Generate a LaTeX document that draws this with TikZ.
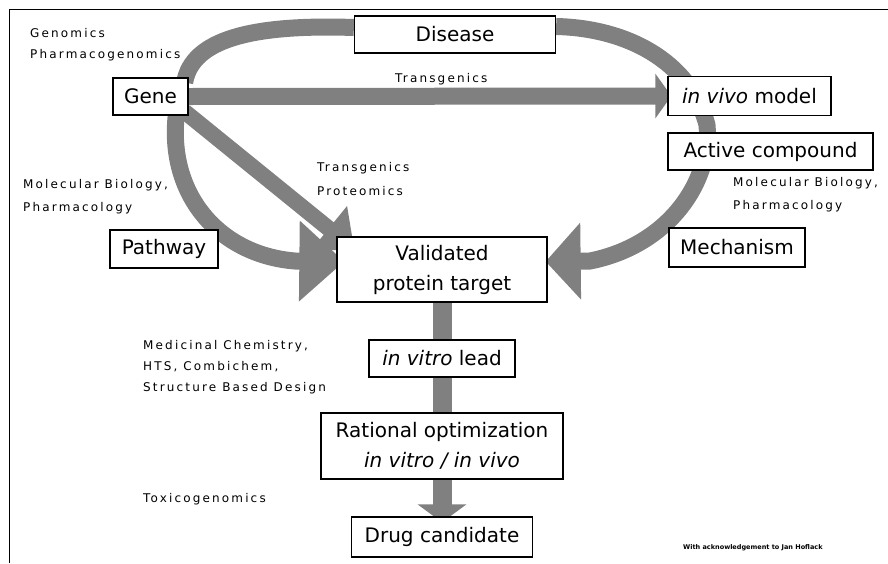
\documentclass[tikz,border=0pt]{standalone}
\usepackage{fontspec}
\setmainfont{DejaVu Sans}
\newfontfamily\lblfont[LetterSpace=18]{DejaVu Sans}
\usetikzlibrary{arrows.meta,backgrounds}
\definecolor{arrowgray}{gray}{0.5}
\tikzset{
  box/.style={draw=black, line width=1.3pt, fill=white, inner sep=0pt,
    font=\fontsize{20}{30}\selectfont, align=center},
  lbl/.style={anchor=west, inner sep=0pt, font=\lblfont\fontsize{12}{14}\selectfont},
  foot/.style={anchor=west, inner sep=0pt, font=\bfseries\fontsize{6.5}{8}\selectfont},
  shaft/.style={draw=arrowgray, line width=17pt},
}
\begin{document}
\begin{tikzpicture}[x=1pt,y=-1pt]
\useasboundingbox (0,0) rectangle (888,563);
% boxes
\node[box, minimum width=201pt, minimum height=37pt] (disease) at (455,34.5) {Disease};
\node[box, minimum width=75pt, minimum height=37pt] (gene) at (150.5,96.5) {Gene};
\node[box, minimum width=163pt, minimum height=39pt] (vivo) at (749.5,96) {\textit{in vivo} model};
\node[box, minimum width=205pt, minimum height=37pt] (active) at (770.5,151.5) {Active compound};
\node[box, minimum width=136pt, minimum height=39pt] (mech) at (737,247.5) {Mechanism};
\node[box, minimum width=108pt, minimum height=38pt] (pathway) at (164,249) {Pathway};
\node[box, minimum width=210pt, minimum height=65pt] (target) at (442,269.5) {Validated\\protein target};
\node[box, minimum width=146pt, minimum height=37pt] (lead) at (442,358.5) {\textit{in vitro} lead};
\node[box, minimum width=242pt, minimum height=66pt] (ratopt) at (442,446) {Rational optimization\\\textit{in vitro / in vivo}};
\node[box, minimum width=181pt, minimum height=40pt] (drug) at (442,537) {Drug candidate};
% labels
\node[lbl] (l1) at (30,33) {Genomics};
\node[lbl] (l2) at (30,55) {Pharmacogenomics};
\node[lbl] (l3) at (395,79) {Transgenics};
\node[lbl] (l4) at (317,168) {Transgenics};
\node[lbl] (l5) at (317,191) {Proteomics};
\node[lbl] (l6) at (23,185) {Molecular Biology,};
\node[lbl] (l7) at (23,208) {Pharmacology};
\node[lbl] (l8) at (733,183) {Molecular Biology,};
\node[lbl] (l9) at (733,206) {Pharmacology};
\node[lbl] (l10) at (143,346) {Medicinal Chemistry,};
\node[lbl] (l11) at (143,367) {HTS, Combichem,};
\node[lbl] (l12) at (143,388) {Structure Based Design};
\node[lbl] (l13) at (143,499) {Toxicogenomics};
\node[foot] (fn) at (683,548) {With acknowledgement to Jan Hoflack};
\begin{scope}[on background layer]
  % frame
  \draw[line width=1pt] (9,563) -- (9,9) -- (888,9);
  % big loop, top left
  \draw[shaft] ([xshift=-4pt,yshift=-5pt]gene.north east) .. controls (192,40) and (250,24) .. ([yshift=7pt]disease.west);
  % big loop, right side to target
  \draw[shaft, -{Triangle[length=35pt,width=75pt]}] ([yshift=8pt]disease.east) .. controls (625,28) and (690,60) .. (707,125)
     .. controls (712,180) and (670,245) .. (590,261) -- ([xshift=-2pt,yshift=8pt]target.east);
  % left lower loop to target
  \draw[shaft, -{Triangle[length=45pt,width=78pt]}] ([xshift=-12pt,yshift=4pt]gene.south east) .. controls (166,195) and (220,255) .. (295,261) -- ([xshift=8pt,yshift=8pt]target.west);
  % horizontal
  \draw[shaft, -{Triangle[length=16pt,width=44pt]}] (gene.east) -- ([xshift=4pt]vivo.west);
  % diagonal
  \draw[shaft, line width=16pt, -{Triangle[length=33pt,width=56pt]}] ([xshift=-4pt,yshift=4pt]gene.south east) -- ([xshift=18pt,yshift=-13pt]target.north west);
  % vertical chain
  \draw[shaft, line width=19pt] (target.south) -- (lead.north);
  \draw[shaft, line width=19pt] (lead.south) -- (ratopt.north);
  \draw[shaft, line width=19pt, -{Triangle[length=18pt,width=48pt]}] (ratopt.south) -- ([yshift=-6pt]drug.north);
\end{scope}
\end{tikzpicture}
\end{document}
